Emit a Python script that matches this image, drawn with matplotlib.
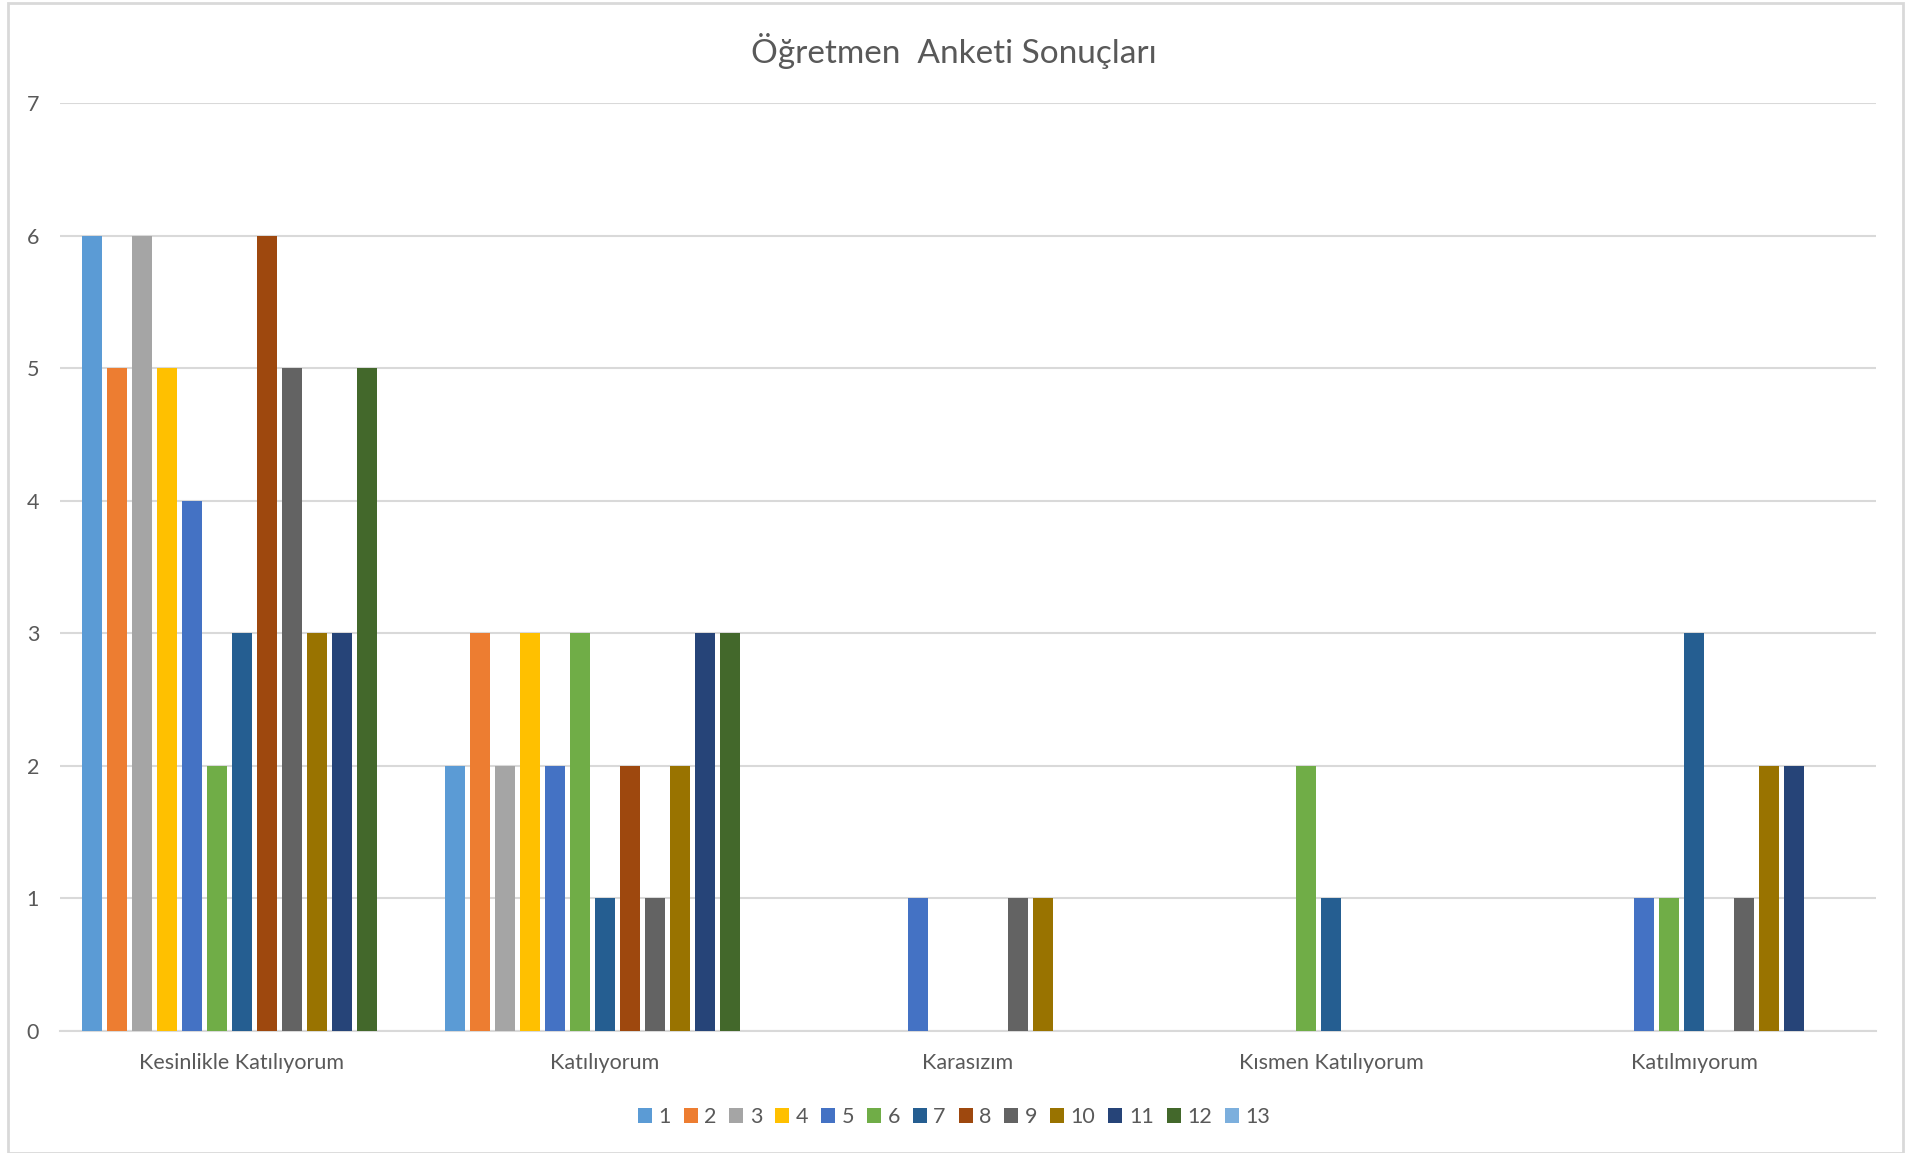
import matplotlib
matplotlib.use('agg')
import matplotlib.pyplot as plt
import numpy as np

plt.rcParams['font.family'] = ['Lato', 'DejaVu Sans']

categories = ["Kesinlikle Katılıyorum", "Katılıyorum", "Karasızım", "Kısmen Katılıyorum", "Katılmıyorum"]
series_names = ["1", "2", "3", "4", "5", "6", "7", "8", "9", "10", "11", "12", "13"]

# one row per series, one value per category
s1 = [6, 2, 0, 0, 0]
s2 = [5, 3, 0, 0, 0]
s3 = [6, 2, 0, 0, 0]
s4 = [5, 3, 0, 0, 0]
s5 = [4, 2, 1, 0, 1]
s6 = [2, 3, 0, 2, 1]
s7 = [3, 1, 0, 1, 3]
s8 = [6, 2, 0, 0, 0]
s9 = [5, 1, 1, 0, 1]
s10 = [3, 2, 1, 0, 2]
s11 = [3, 3, 0, 0, 2]
s12 = [5, 3, 0, 0, 0]
s13 = [0, 0, 0, 0, 0]
values = [s1, s2, s3, s4, s5, s6, s7, s8, s9, s10, s11, s12, s13]

colors = ['#5B9BD5', '#ED7D31', '#A5A5A5', '#FFC000', '#4472C4', '#70AD47',
          '#255E91', '#9E480E', '#636363', '#997300', '#264478', '#43682B', '#7CAFDD']

text_color = '#595959'
grid_color = '#D9D9D9'

fig = plt.figure(figsize=(19.08, 11.53), dpi=100)
ax = fig.add_axes([60 / 1908, 122 / 1153, 1816 / 1908, 928 / 1153])

x = np.arange(len(categories))
slot = 25 / 363.2
bar_w = 20 / 363.2
for i, (name, vals) in enumerate(zip(series_names, values)):
    ax.bar(x + (i - 6) * slot, vals, width=bar_w, color=colors[i], label=name, zorder=3)

ax.set_xlim(-0.5, len(categories) - 0.5)
ax.set_ylim(0, 7)
ax.set_yticks(range(0, 8))
ax.set_xticks(x)
ax.set_xticklabels(categories)
ax.tick_params(axis='both', length=0, colors=text_color, labelsize=15.5)
ax.tick_params(axis='y', pad=15)
ax.tick_params(axis='x', pad=16)
ax.yaxis.grid(True, color=grid_color, linewidth=1.5, zorder=0)
for side in ['left', 'right', 'top']:
    ax.spines[side].set_visible(False)
ax.spines['bottom'].set_color(grid_color)
ax.spines['bottom'].set_linewidth(1.5)

fig.text(0.5, 1 - 51 / 1153, "Öğretmen  Anketi Sonuçları", ha='center', va='center',
         fontsize=24, color=text_color)

leg = fig.legend(loc='center', bbox_to_anchor=(0.5, 1 - 1117 / 1153), ncol=13,
                 frameon=False, fontsize=15.5, handlelength=0.65, handleheight=0.65,
                 handletextpad=0.3, columnspacing=0.6, labelcolor=text_color)

# outer chart border
fig.patches.append(plt.Rectangle((8 / 1908, 0), 1895 / 1908, 1 - 3 / 1153,
                                 transform=fig.transFigure, fill=False,
                                 edgecolor=grid_color, linewidth=2))

fig.savefig('out.png', dpi=100)
plt.close(fig)
